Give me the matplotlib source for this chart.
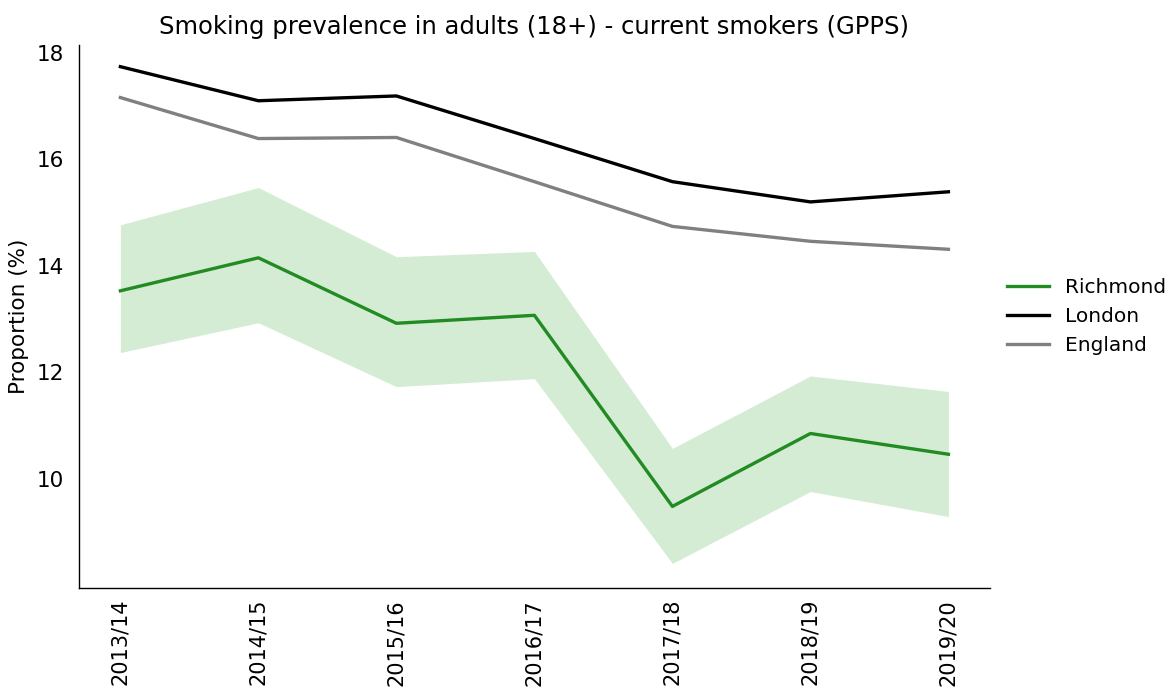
import matplotlib
matplotlib.use("Agg")
import matplotlib.pyplot as plt
import numpy as np

years = ["2013/14", "2014/15", "2015/16", "2016/17", "2017/18", "2018/19", "2019/20"]
richmond = [13.53, 14.15, 12.92, 13.07, 9.48, 10.85, 10.46]
richmond_upper = [14.77, 15.47, 14.17, 14.27, 10.57, 11.93, 11.64]
richmond_lower = [12.37, 12.93, 11.73, 11.88, 8.41, 9.76, 9.29]
london = [17.74, 17.10, 17.19, 16.39, 15.58, 15.20, 15.39]
england = [17.16, 16.39, 16.41, 15.58, 14.74, 14.46, 14.31]

plt.rcParams["font.family"] = ["DejaVu Sans"]

fig = plt.figure(figsize=(11.7, 6.9), dpi=100)
ax = fig.add_axes([0.0675, 0.148, 0.7785, 0.787])

x = np.arange(len(years))
ax.fill_between(x, richmond_lower, richmond_upper, color="#2ca02c", alpha=0.2, linewidth=0)
ax.plot(x, richmond, color="#228B22", lw=2.4, label="Richmond")
ax.plot(x, london, color="black", lw=2.4, label="London")
ax.plot(x, england, color="grey", lw=2.4, label="England")

ax.set_xlim(-0.3, 6.3)
ax.set_ylim(7.95, 18.15)
ax.set_xticks(x)
ax.set_xticklabels(years, rotation=90)
ax.set_yticks([10, 12, 14, 16, 18])
ax.tick_params(axis="y", length=0, pad=11, labelsize=15.5)
ax.tick_params(axis="x", length=0, pad=8, labelsize=15)
ax.set_ylabel("Proportion (%)", fontsize=15.5, labelpad=5)
ax.set_title("Smoking prevalence in adults (18+) - current smokers (GPPS)", fontsize=17.5, pad=8)
for s in ["top", "right"]:
    ax.spines[s].set_visible(False)
for s in ["left", "bottom"]:
    ax.spines[s].set_linewidth(1.0)

ax.legend(loc="center left", bbox_to_anchor=(1.0, 0.5), frameon=False, fontsize=14.5,
          handlelength=2.1, handletextpad=0.8, labelspacing=0.5,
          borderaxespad=0.45, borderpad=0.4)

fig.savefig("out.png", dpi=100)
